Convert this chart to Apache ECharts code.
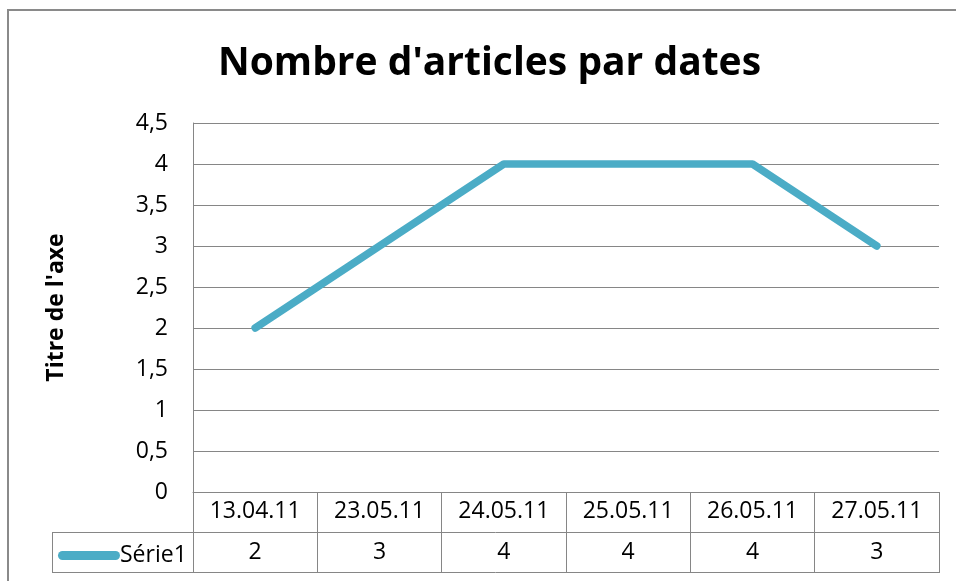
<!DOCTYPE html>
<html>
<head>
<meta charset="utf-8">
<script src="https://cdn.jsdelivr.net/npm/echarts@6/dist/echarts.min.js"></script>
<style>
  html, body { margin: 0; padding: 0; background: #fff; }
  #chart { width: 956px; height: 581px; }
</style>
</head>
<body>
<div id="chart"></div>
<script>
// Excel-style line chart with its data table underneath.
var categories = ["13.04.11", "23.05.11", "24.05.11", "25.05.11", "26.05.11", "27.05.11"];
var serie1 = [2, 3, 4, 4, 4, 3];
var seriesName = "Série1";
var titleText = "Nombre d'articles par dates";
var yAxisTitle = "Titre de l'axe";

var FONT = "Open Sans";
var GRID = "#868686";
var LINE = "#4BACC6";

var chart = echarts.init(document.getElementById("chart"), null, { renderer: "canvas" });

chart.setOption({
  animation: false,
  backgroundColor: "#fff",
  title: {
    text: titleText,
    left: 213,
    top: 39,
    textStyle: { fontFamily: FONT, fontWeight: "bold", fontSize: 39, color: "#000" }
  },
  legend: {
    data: [seriesName],
    left: 53,
    top: 539,
    itemWidth: 62,
    itemHeight: 9,
    itemGap: 0,
    icon: "path://M4.5,0 L57.5,0 A4.5,4.5 0 0 1 57.5,9 L4.5,9 A4.5,4.5 0 0 1 4.5,0 Z",
    textStyle: { fontFamily: FONT, fontSize: 23, color: "#000", padding: [0, 0, 0, -5] }
  },
  grid: { left: 193, right: 17, top: 123, bottom: 89 },
  xAxis: [{
    type: "category",
    data: categories,
    boundaryGap: true,
    axisLine: { lineStyle: { color: GRID, width: 1 } },
    axisTick: { show: true, interval: 0, length: 81, lineStyle: { color: GRID, width: 1 } },
    axisLabel: { interval: 0, margin: 8, fontFamily: FONT, fontSize: 23, color: "#000" },
    splitLine: { show: false }
  }, {
    type: "category",
    data: categories,
    position: "bottom",
    offset: 40,
    axisLine: { show: false },
    axisTick: { show: false },
    axisLabel: {
      interval: 0, margin: 9, fontFamily: FONT, fontSize: 23, color: "#000",
      formatter: function (v, i) { return String(serie1[i]); }
    }
  }],
  yAxis: {
    type: "value",
    min: 0,
    max: 4.5,
    interval: 0.5,
    name: yAxisTitle,
    nameLocation: "middle",
    nameRotate: 90,
    nameGap: 125,
    nameTextStyle: { fontFamily: FONT, fontWeight: "bold", fontSize: 23, color: "#000" },
    axisLine: { show: true, lineStyle: { color: GRID, width: 1 } },
    axisTick: { show: false },
    axisLabel: {
      margin: 25, fontFamily: FONT, fontSize: 23, color: "#000",
      formatter: function (v) { return String(v).replace(".", ","); }
    },
    splitLine: { lineStyle: { color: GRID, width: 1 } }
  },
  series: [{
    name: seriesName,
    type: "line",
    data: serie1,
    symbol: "none",
    lineStyle: { color: LINE, width: 7.5, cap: "round", join: "round" },
    itemStyle: { color: LINE }
  }],
  graphic: [
    // outer chart border
    { type: "polyline", shape: { points: [[8, 581], [8, 10], [956, 10]] },
      style: { stroke: "#8a8a8a", lineWidth: 2, fill: null } },
    // data table lines
    { type: "line", shape: { x1: 52, y1: 532.5, x2: 939, y2: 532.5 }, style: { stroke: GRID, lineWidth: 1 } },
    { type: "line", shape: { x1: 52, y1: 572.5, x2: 939, y2: 572.5 }, style: { stroke: GRID, lineWidth: 1 } },
    { type: "line", shape: { x1: 52.5, y1: 532, x2: 52.5, y2: 573 }, style: { stroke: GRID, lineWidth: 1 } }
  ]
});
</script>
</body>
</html>
